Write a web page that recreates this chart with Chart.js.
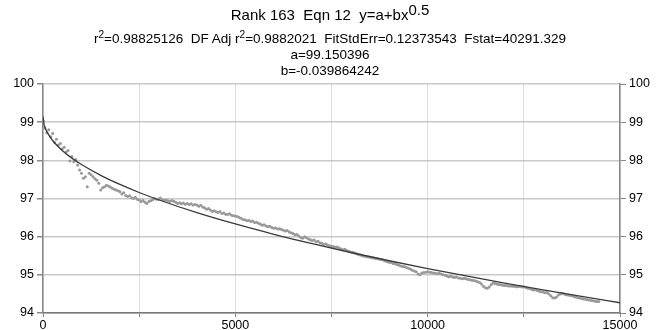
<!DOCTYPE html>
<html>
<head>
<meta charset="utf-8">
<script src="https://cdn.jsdelivr.net/npm/chart.js@4"></script>
<style>
  body { margin: 0; background: #fff; }
  #wrap { position: relative; width: 660px; height: 330px; font-family: "Liberation Sans", Arial, sans-serif; color: #000; }
  .t { position: absolute; left: 0; width: 660px; text-align: center; white-space: pre; line-height: 1; }
  #t1 { top: 7px; font-size: 15px; }
  #t2 { top: 32px; font-size: 13.5px; }
  #t3 { top: 48px; font-size: 13.5px; }
  #t4 { top: 64px; font-size: 13.5px; }
  sup { font-size: 0.75em; vertical-align: 0.45em; line-height: 0; }
  #t1 sup { font-size: 1em; vertical-align: 0.35em; }
  canvas { position: absolute; left: 0; top: 0; }
</style>
</head>
<body>
<div id="wrap">
  <canvas id="chart" width="660" height="330"></canvas>
  <div class="t" id="t1">Rank 163  Eqn 12  y=a+bx<sup>0.5</sup></div>
  <div class="t" id="t2">r<sup>2</sup>=0.98825126  DF Adj r<sup>2</sup>=0.9882021  FitStdErr=0.12373543  Fstat=40291.329</div>
  <div class="t" id="t3">a=99.150396</div>
  <div class="t" id="t4">b=-0.039864242</div>
</div>
<script>
// measured points, x = 0, 50, 100 ... 14450
const dataStep = 50;
const dataY = [
    99.05, 98.85, 98.72, 98.80, 98.62, 98.70, 98.47, 98.55, 98.40, 98.44,
    98.30, 98.34, 98.22, 98.26, 97.98, 98.10, 97.96, 98.02, 97.88, 97.75,
    97.66, 97.53, 97.57, 97.31, 97.66, 97.62, 97.57, 97.52, 97.48, 97.40,
    97.22, 97.28, 97.31, 97.35, 97.33, 97.30, 97.27, 97.24, 97.22, 97.20,
    97.18, 97.12, 97.15, 97.08, 97.05, 97.07, 97.02, 97.00, 97.03, 96.98,
    96.96, 96.92, 96.95, 96.90, 96.87, 96.92, 96.94, 96.97, 97.00, 96.98,
    96.98, 97.01, 96.97, 96.95, 96.96, 96.94, 96.92, 96.95, 96.93, 96.90,
    96.87, 96.89, 96.86, 96.88, 96.85, 96.87, 96.84, 96.86, 96.83, 96.84,
    96.83, 96.80, 96.82, 96.78, 96.76, 96.72, 96.74, 96.70, 96.66, 96.68,
    96.65, 96.63, 96.66, 96.61, 96.62, 96.59, 96.58, 96.60, 96.56, 96.55,
    96.54, 96.53, 96.50, 96.48, 96.45, 96.44, 96.42, 96.43, 96.40, 96.41,
    96.37, 96.38, 96.35, 96.33, 96.30, 96.31, 96.28, 96.26, 96.27, 96.24,
    96.22, 96.23, 96.20, 96.21, 96.19, 96.17, 96.15, 96.16, 96.12, 96.10,
    96.08, 96.05, 96.06, 96.02, 95.98, 95.96, 96.00, 95.97, 95.94, 95.92,
    95.90, 95.91, 95.87, 95.88, 95.84, 95.83, 95.80, 95.81, 95.78, 95.76,
    95.75, 95.74, 95.72, 95.73, 95.70, 95.68, 95.66, 95.67, 95.64, 95.62,
    95.60, 95.59, 95.57, 95.55, 95.53, 95.52, 95.50, 95.49, 95.48, 95.47,
    95.46, 95.45, 95.44, 95.43, 95.42, 95.41, 95.40, 95.38, 95.36, 95.34,
    95.33, 95.32, 95.30, 95.29, 95.27, 95.25, 95.23, 95.22, 95.21, 95.19,
    95.17, 95.15, 95.12, 95.10, 95.08, 95.02, 95.00, 95.05, 95.06, 95.07,
    95.08, 95.07, 95.06, 95.05, 95.04, 95.03, 95.04, 95.02, 95.00, 94.99,
    94.97, 94.95, 94.96, 94.94, 94.93, 94.94, 94.92, 94.91, 94.90, 94.91,
    94.90, 94.88, 94.87, 94.86, 94.85, 94.84, 94.82, 94.80, 94.76, 94.70,
    94.66, 94.65, 94.68, 94.74, 94.78, 94.77, 94.76, 94.75, 94.74, 94.73,
    94.72, 94.72, 94.71, 94.71, 94.70, 94.70, 94.69, 94.69, 94.70, 94.68,
    94.69, 94.67, 94.65, 94.64, 94.62, 94.60, 94.61, 94.59, 94.57, 94.56,
    94.55, 94.53, 94.54, 94.50, 94.45, 94.40, 94.39, 94.42, 94.47, 94.50,
    94.52, 94.50, 94.48, 94.47, 94.46, 94.45, 94.43, 94.42, 94.40, 94.39,
    94.38, 94.37, 94.36, 94.35, 94.34, 94.33, 94.32, 94.31, 94.30, 94.30
];

// fitted curve y=a+b*x^0.5, sampled
const fitX = [0, 25, 50, 100, 250, 500, 750, 1000, 1500, 2000, 2500, 3000, 4000, 5000,
    6000, 7000, 8000, 9000, 10000, 11000, 12000, 13000, 14000, 15000];
const fitY = [99.150, 98.951, 98.869, 98.752, 98.520, 98.259, 98.058, 97.890, 97.607, 97.368,
    97.157, 96.967, 96.629, 96.332, 96.063, 95.815, 95.585, 95.369, 95.164, 94.970,
    94.784, 94.605, 94.434, 94.268];

const yTicks = [94, 95, 96, 97, 98, 99, 100];
const xLabels = [0, 5000, 10000, 15000];

const points = dataY.map((y, i) => ({ x: i * dataStep, y: y }));
const curve = fitX.map((x, i) => ({ x: x, y: fitY[i] }));

const font = { family: '"Liberation Sans", Arial, sans-serif', size: 12.5 };

new Chart(document.getElementById('chart'), {
    type: 'scatter',
    data: {
        datasets: [
            {
                type: 'line',
                data: curve,
                borderColor: '#3a3a3a',
                borderWidth: 1.3,
                pointRadius: 0,
                cubicInterpolationMode: 'monotone',
                fill: false
            },
            {
                data: points,
                backgroundColor: '#999999',
                borderWidth: 0,
                pointRadius: 1.5
            }
        ]
    },
    options: {
        responsive: false,
        animation: false,
        layout: { padding: { top: 84, left: 0, right: 0, bottom: 0 } },
        plugins: { legend: { display: false }, tooltip: { enabled: false } },
        scales: {
            x: {
                type: 'linear',
                min: 0,
                max: 15000,
                ticks: {
                    stepSize: 2500,
                    color: '#000',
                    font: font,
                    padding: 1,
                    maxRotation: 0,
                    callback: v => xLabels.includes(v) ? String(v) : ''
                },
                grid: { color: '#dedede', lineWidth: 1, tickLength: 4, tickColor: '#888' },
                border: { color: '#777', width: 1.5 },
                afterFit: s => { s.height = 17; }
            },
            y: {
                position: 'left',
                min: 94,
                max: 100,
                afterBuildTicks: s => { s.ticks = yTicks.map(v => ({ value: v })); },
                ticks: { color: '#000', font: font, padding: 3 },
                grid: { color: '#c8c8c8', lineWidth: 1.5, tickLength: 6, tickColor: '#888' },
                border: { color: '#888', width: 1.5 },
                afterFit: s => { s.width = 43; }
            },
            y2: {
                position: 'right',
                min: 94,
                max: 100,
                afterBuildTicks: s => { s.ticks = yTicks.map(v => ({ value: v })); },
                ticks: { color: '#000', font: font, padding: 3 },
                grid: { drawOnChartArea: false, tickLength: 6, tickColor: '#888' },
                border: { color: '#888', width: 1.5 },
                afterFit: s => { s.width = 40; }
            }
        }
    }
});
</script>
</body>
</html>
